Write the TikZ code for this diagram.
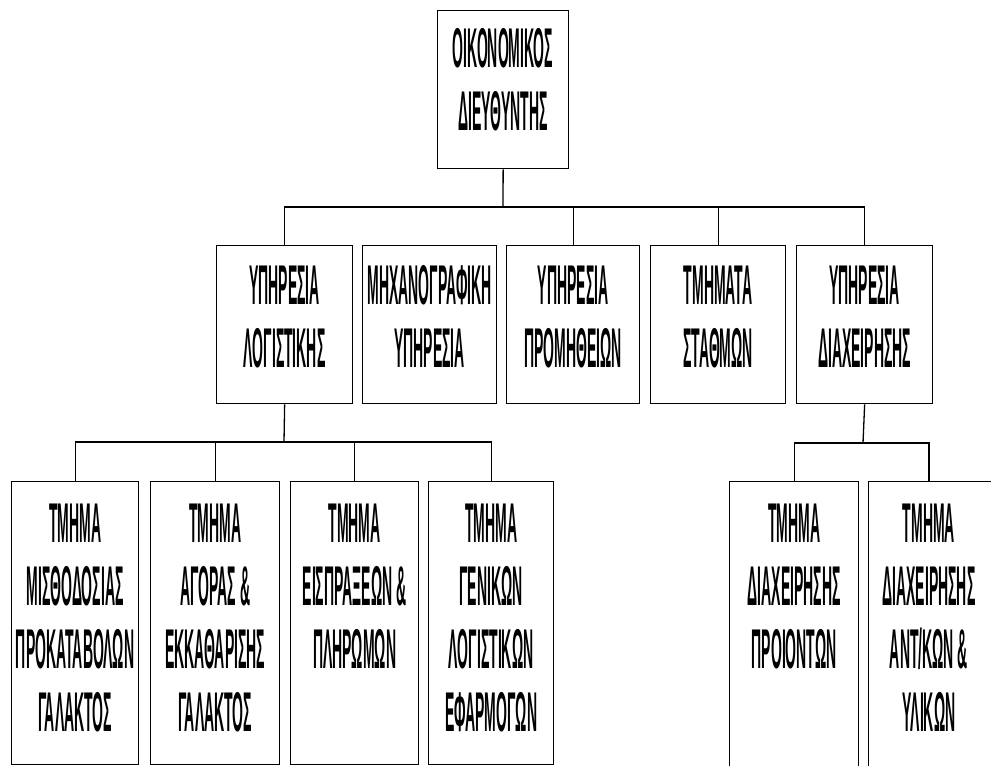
\documentclass[tikz,border=0pt]{standalone}
\usepackage{fontspec}
\setmainfont{Liberation Sans}
\usepackage{graphicx}
\newcommand\sqz[1]{\scalebox{0.25}[1]{\fontsize{56}{63}\selectfont\bfseries\begin{tabular}{@{}c@{}}#1\end{tabular}}}
\tikzset{
  box/.style={draw, line width=1.3pt, rectangle, inner sep=0pt, anchor=north west},
  lbl/.style={inner sep=0pt, anchor=north},
  conn/.style={line width=1.3pt}
}
\begin{document}
\begin{tikzpicture}[x=1pt,y=-1pt]
\useasboundingbox (0,0) rectangle (991,766);
% top
\node[box, minimum width=131pt, minimum height=158pt] (top) at (437,10) {};
\node[lbl] (toplbl) at (503,23) {\sqz{ΟΙΚΟΝΟΜΙΚΟΣ\\ΔΙΕΥΘΥΝΤΗΣ}};
% level 2
\node[box, minimum width=136pt, minimum height=158pt] (s1) at (216,245) {};
\node[box, minimum width=134pt, minimum height=158pt] (s2) at (362,245) {};
\node[box, minimum width=133pt, minimum height=158pt] (s3) at (506,245) {};
\node[box, minimum width=135pt, minimum height=158pt] (s4) at (650,245) {};
\node[box, minimum width=136pt, minimum height=158pt] (s5) at (796,245) {};
\node[lbl] (s1l) at (s1.north) [yshift=-15pt] {\sqz{ΥΠΗΡΕΣΙΑ\\ΛΟΓΙΣΤΙΚΗΣ}};
\node[lbl] (s2l) at (s2.north) [yshift=-15pt] {\sqz{ΜΗΧΑΝΟΓΡΑΦΙΚΗ\\ΥΠΗΡΕΣΙΑ}};
\node[lbl] (s3l) at (s3.north) [yshift=-15pt] {\sqz{ΥΠΗΡΕΣΙΑ\\ΠΡΟΜΗΘΕΙΩΝ}};
\node[lbl] (s4l) at (s4.north) [yshift=-15pt] {\sqz{ΤΜΗΜΑΤΑ\\ΣΤΑΘΜΩΝ}};
\node[lbl] (s5l) at (s5.north) [yshift=-15pt] {\sqz{ΥΠΗΡΕΣΙΑ\\ΔΙΑΧΕΙΡΗΣΗΣ}};
% level 3 left
\node[box, minimum width=127pt, minimum height=283pt] (a) at (11,481) {};
\node[box, minimum width=129pt, minimum height=283pt] (b) at (150,481) {};
\node[box, minimum width=128pt, minimum height=283pt] (c) at (290,481) {};
\node[box, minimum width=125pt, minimum height=283pt] (d) at (428,481) {};
\node[lbl] (al) at (a.north) [yshift=-17pt] {\sqz{ΤΜΗΜΑ\\ΜΙΣΘΟΔΟΣΙΑΣ\\ΠΡΟΚΑΤΑΒΟΛΩΝ\\ΓΑΛΑΚΤΟΣ}};
\node[lbl] (bl) at (b.north) [yshift=-17pt] {\sqz{ΤΜΗΜΑ\\ΑΓΟΡΑΣ \&\\ΕΚΚΑΘΑΡΙΣΗΣ\\ΓΑΛΑΚΤΟΣ}};
\node[lbl] (cl) at (c.north) [yshift=-17pt] {\sqz{ΤΜΗΜΑ\\ΕΙΣΠΡΑΞΕΩΝ \&\\ΠΛΗΡΩΜΩΝ}};
\node[lbl] (dl) at (d.north) [yshift=-17pt] {\sqz{ΤΜΗΜΑ\\ΓΕΝΙΚΩΝ\\ΛΟΓΙΣΤΙΚΩΝ\\ΕΦΑΡΜΟΓΩΝ}};
% level 3 right
\node[box, minimum width=129pt, minimum height=300pt] (e) at (729,481) {};
\node[box, minimum width=140pt, minimum height=300pt] (f) at (868,481) {};
\node[lbl] (el) at (e.north) [yshift=-17pt] {\sqz{ΤΜΗΜΑ\\ΔΙΑΧΕΙΡΗΣΗΣ\\ΠΡΟΙΟΝΤΩΝ}};
\node[lbl] (fl) at (929,481) [yshift=-17pt] {\sqz{ΤΜΗΜΑ\\ΔΙΑΧΕΙΡΗΣΗΣ\\ΑΝΤ/ΚΩΝ \&\\ΥΛΙΚΩΝ}};
% connectors
\coordinate (bus1) at (503,207);
\coordinate (bus2) at (284,442);
\coordinate (bus3) at (863,443);
\coordinate (fconn) at (929,481);
\draw[conn] (top.south) -- (bus1);
\draw[conn] (s1.north) |- (bus1) -| (s5.north);
\draw[conn] (s3.north) -- (s3.north |- bus1);
\draw[conn] (s4.north) -- (s4.north |- bus1);
\draw[conn] (s1.south) -- (bus2);
\draw[conn] (a.north) |- (bus2) -| (d.north);
\draw[conn] (b.north) -- (b.north |- bus2);
\draw[conn] (c.north) -- (c.north |- bus2);
\draw[conn] (s5.south) -- (bus3);
\draw[conn] (e.north) |- (bus3);
\draw[conn] (bus3) -| (fconn);
\end{tikzpicture}
\end{document}
